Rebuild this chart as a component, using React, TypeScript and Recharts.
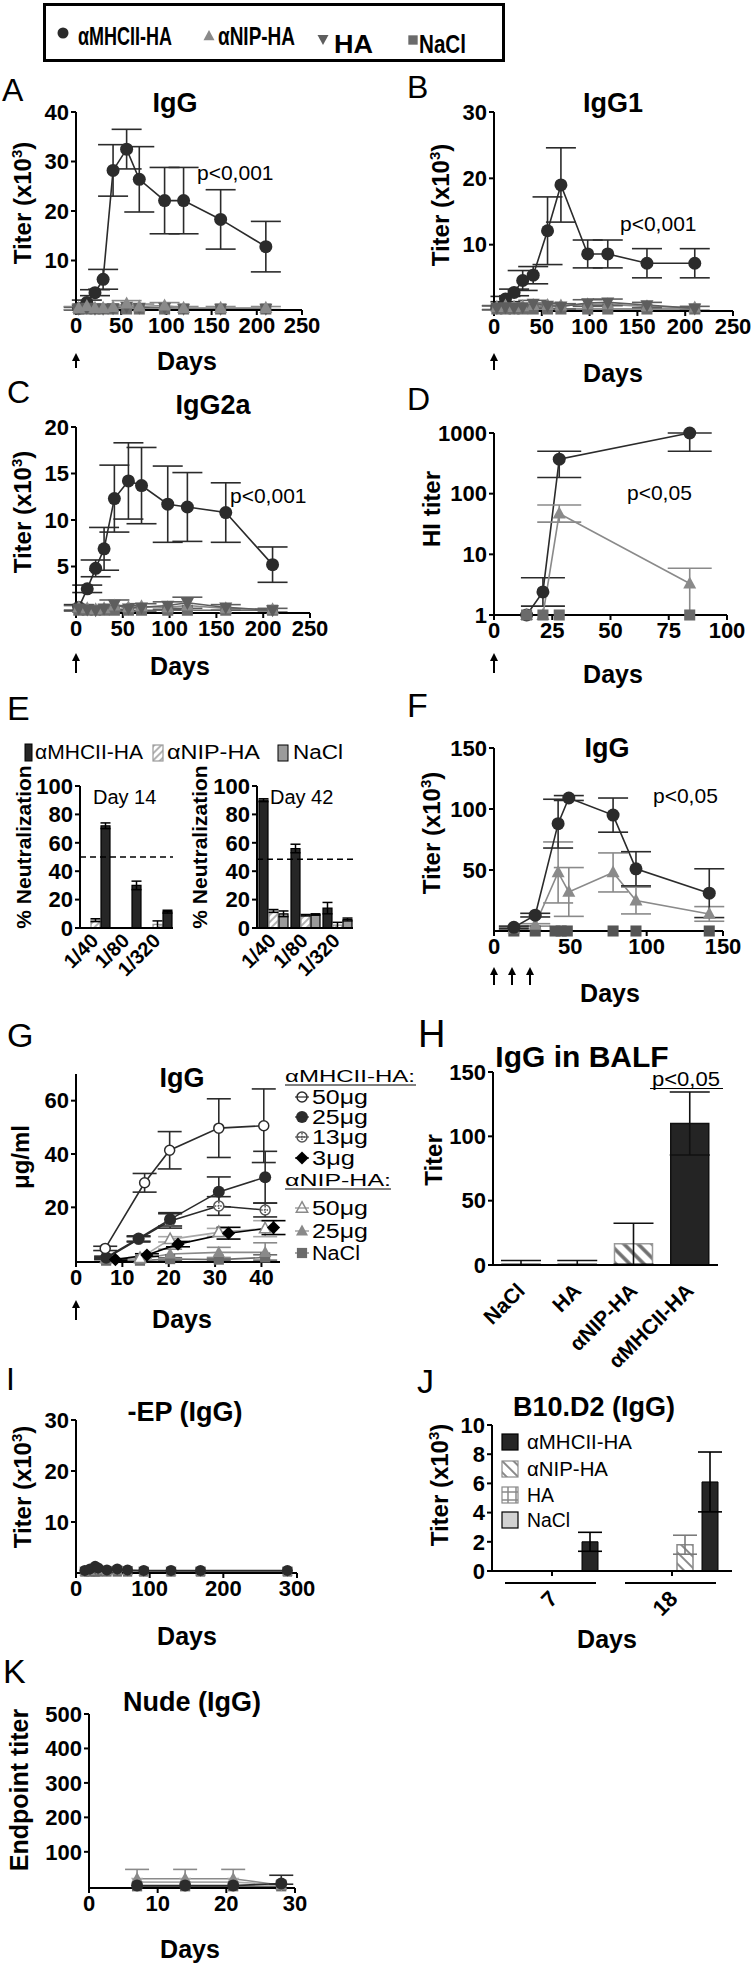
import React from "react";
import {
  LineChart,
  Line,
  BarChart,
  Bar,
  Cell,
  XAxis,
  YAxis,
  ErrorBar,
  ReferenceLine,
} from "recharts";

const FONT = "'Liberation Sans', Arial, Helvetica, sans-serif";
const DARK = "#2b2b2b";
const GREY = "#8a8a8a";
const MID = "#5e5e5e";
const SQ = "#6b6b6b";

type Err = number | [number, number];

// A: IgG
const aDays = [3, 12, 21, 30, 41, 56, 70, 98, 119, 160, 210];
const aMhc = [0.3, 1.5, 3.5, 6.2, 28.2, 32.5, 26.4, 22.1, 22.1, 18.3, 12.8];
const aMhcErr = [0.3, 0.5, 0.6, 2.0, 5.2, 4.0, 6.6, 6.7, 6.7, 6.0, 5.1];
const aNip = [0.4, 0.8, 0.4, 0.4, 0.6, 1.3, 0.7, 0.9, 0.4, 0.4, 0.4];
const aNipErr = [0.3, 0.4, 0.3, 0.3, 0.4, 0.6, 0.5, 0.6, 0.3, 0.3, 0.3];
const aHa = [0.3, 0.5, 0.3, 0.3, 0.4, 0.7, 0.5, 0.5, 0.3, 0.3, 0.3];
const aNacl = [0.2, 0.2, 0.2, 0.2, 0.2, 0.2, 0.2, 0.2, 0.2, 0.2, 0.2];

// B: IgG1
const bMhc = [0.5, 1.8, 2.8, 4.6, 5.4, 12.1, 19.0, 8.6, 8.6, 7.2, 7.2];
const bMhcErr = [0.3, 0.4, 0.5, 1.5, 1.3, 5.1, 5.6, 2.1, 2.1, 2.2, 2.2];
const bNip = [0.6, 0.8, 0.6, 0.7, 0.9, 0.9, 0.8, 1.0, 1.0, 0.7, 0.5];
const bHa = [0.5, 0.6, 0.5, 0.6, 1.1, 0.8, 0.7, 1.2, 1.3, 0.9, 0.4];
const bHaErr = [0.3, 0.3, 0.3, 0.3, 0.5, 0.4, 0.4, 0.5, 0.5, 0.4, 0.3];
const bNacl = [0.3, 0.3, 0.3, 0.3, 0.3, 0.3, 0.3, 0.3, 0.3, 0.3, 0.3];

// C: IgG2a
const cMhc = [0.6, 2.6, 4.8, 6.9, 12.3, 14.2, 13.7, 11.7, 11.4, 10.8, 5.2];
const cMhcErr = [0.3, 0.4, 0.9, 2.3, 3.6, 4.1, 4.1, 4.1, 3.7, 3.2, 1.9];
const cNip = [0.6, 0.5, 0.4, 0.5, 0.8, 0.6, 0.7, 0.6, 0.8, 0.5, 0.4];
const cHa = [0.5, 0.4, 0.3, 0.5, 0.9, 0.5, 0.6, 0.8, 1.1, 0.6, 0.3];
const cHaErr = [0.3, 0.3, 0.2, 0.3, 0.5, 0.3, 0.4, 0.4, 0.6, 0.3, 0.2];
const cNacl = [0.3, 0.3, 0.3, 0.3, 0.3, 0.3, 0.3, 0.3, 0.3, 0.3, 0.3];

// D: HI titer (log)
const dDays = [14, 21, 28, 84];
const dMhc = [1, 2.4, 370, 1000];
const dMhcErr: Err[] = [0, [1.0, 1.7], [185, 130], [500, 0]];
const dNip = [1, 1, 47, 3.3];
const dNipErr: Err[] = [0, 0, [13, 18], [2.3, 2.6]];
const dNacl = [1, 1, 1, 1];

// E: neutralization
const eCats = ["1/40", "1/80", "1/320"];
const e14Mhc = [72, 30, 11.5];
const e14MhcErr = [2, 3, 1];
const e14Nip = [5.5, 0, 2.5];
const e14NipErr = [1, 0, 2.5];
const e14Nacl = [0, 0, 0];
const e42Mhc = [90, 56, 14];
const e42MhcErr = [1, 3, 4];
const e42Nip = [12, 9, 2];
const e42NipErr = [1, 0.5, 2];
const e42Nacl = [10, 9.5, 6];
const e42NaclErr = [2, 0.5, 1];

// F: IgG, three doses
const fDays = [13, 27, 42, 49, 78, 93, 141];
const fMhc = [3, 13, 88, 109, 95, 51, 31];
const fMhcErr = [1, 1.5, 20, 2, 14, 14, 20];
const fNip = [2, 5, 48, 32, 48, 25, 14];
const fNipErr = [1, 1, 25, 20, 16, 11, 6];
const fNaclDays = [13, 27, 40, 44, 48, 78, 93, 141];
const fNacl = [0, 0, 0, 0, 0, 0, 0, 0];

// G: dose response
const gM50Days = [6.3, 14.8, 20.2, 30.8, 40.5];
const gM50 = [4.6, 29.2, 41.4, 49.7, 50.6];
const gM50Err = [0.8, 3.5, 7, 11, 13.8];
const gM25Days = [6.5, 13.5, 20.3, 30.8, 40.8];
const gM25 = [1.2, 8.3, 15.5, 25.8, 31.3];
const gM25Err = [0.5, 1, 2.5, 5.6, 9.7];
const gM13 = [0.9, 8, 14.9, 20.5, 19];
const gM13Err = [0.4, 1, 2.7, 3.5, 2.6];
const gM3Days = [8.5, 15.3, 22, 32.9, 42.6];
const gM3 = [0.4, 2.1, 6.2, 10.3, 12.4];
const gM3Err = [0.3, 0.5, 1, 2.2, 2.6];
const gNDays = [6.5, 13.8, 20.3, 30.8, 40.8];
const gN50 = [0.9, 0.9, 8, 10.6, 12];
const gN50Err = [0.3, 0.3, 1, 1.5, 3];
const gN25 = [0.6, 0.6, 2.5, 3.1, 3.1];
const gN25Err = [0.3, 0.3, 1.8, 1.9, 3.6];
const gNacl = [0, 0, 0.6, 0.4, 1.2];
const gNaclErr = [0, 0, 0.5, 0.4, 1.0];

// H: BALF
const hCats = ["NaCl", "HA", "αNIP-HA", "αMHCII-HA"];
const hVals = [1, 1, 16.5, 110];
const hErr: Err[] = [[1, 2.5], [1, 2.5], [16, 16], [24.5, 24.5]];

// I: -EP
const iDays = [12, 19, 26, 30, 42, 56, 70, 92, 129, 169, 287];
const iMhc = [0.5, 0.8, 1.3, 1.0, 0.6, 0.8, 0.6, 0.5, 0.5, 0.5, 0.5];
const iNip = [0.3, 0.4, 0.5, 0.6, 0.4, 0.5, 0.4, 0.3, 0.3, 0.3, 0.3];
const iHa = [0.4, 0.5, 0.8, 0.7, 0.5, 0.6, 0.5, 0.4, 0.4, 0.4, 0.4];
const iNacl = [0.2, 0.2, 0.2, 0.2, 0.2, 0.2, 0.2, 0.2, 0.2, 0.2, 0.2];

// J: B10.D2
const jCats = ["7", "18"];
const jNacl = [0, 0];
const jHa = [0, 0];
const jNip = [0, 1.8];
const jNipErr = [0, 0.65];
const jMhc = [2.0, 6.1];
const jMhcErr = [0.65, 2.05];

// K: nude
const kDays = [7, 14, 21, 28];
const kNip = [22, 22, 22, 3];
const kNipErr: Err[] = [27, 27, 27, 0];
const kHa = [12, 12, 12, 5];
const kMhc = [2, 2, 2, 8];
const kMhcErr: Err[] = [0, 0, 0, [2, 24]];
const kNacl = [0, 0, 0, 0];

type Kind = "dot" | "odot" | "xdot" | "tri" | "otri" | "tridown" | "sq" | "dia";

function Mark({ cx, cy, kind, size, color }: { cx?: number; cy?: number; kind: Kind; size: number; color: string }) {
  if (cx == null || cy == null || isNaN(cx) || isNaN(cy)) return null;
  const r = size / 2;
  switch (kind) {
    case "dot":
      return <circle cx={cx} cy={cy} r={r} fill={color} />;
    case "odot":
      return <circle cx={cx} cy={cy} r={r - 1} fill="#fff" stroke={color} strokeWidth={1.5} />;
    case "xdot":
      return (
        <g>
          <circle cx={cx} cy={cy} r={r - 1} fill="#fff" stroke={color} strokeWidth={1.5} />
          <path d={`M${cx - r + 2},${cy} H${cx + r - 2} M${cx},${cy - r + 2} V${cy + r - 2}`} stroke={color} strokeWidth={1.5} strokeDasharray="1.5 1.2" />
        </g>
      );
    case "tri":
      return <path d={`M${cx},${cy - r * 1.1} L${cx + r},${cy + r * 0.75} L${cx - r},${cy + r * 0.75}Z`} fill={color} />;
    case "otri":
      return <path d={`M${cx},${cy - r * 1.05} L${cx + r * 0.95},${cy + r * 0.7} L${cx - r * 0.95},${cy + r * 0.7}Z`} fill="#fff" stroke={color} strokeWidth={1.5} />;
    case "tridown":
      return <path d={`M${cx},${cy + r * 1.1} L${cx + r},${cy - r * 0.75} L${cx - r},${cy - r * 0.75}Z`} fill={color} />;
    case "sq":
      return <rect x={cx - r * 0.85} y={cy - r * 0.85} width={r * 1.7} height={r * 1.7} fill={color} />;
    case "dia":
      return <path d={`M${cx},${cy - r * 1.1} L${cx + r * 1.1},${cy} L${cx},${cy + r * 1.1} L${cx - r * 1.1},${cy}Z`} fill={color} />;
  }
  return null;
}

type Ser = { id: string; xs: number[]; ys: number[]; es?: Err[]; kind: Kind; color: string; line: string; size: number };

function rows(s: Ser) {
  return s.xs.map((x, i) => ({ x, [s.id]: s.ys[i], [s.id + "E"]: s.es ? s.es[i] : 0 }));
}

const YW = 72;
const MT = 14;
const MR = 30;
const XH = 44;
const AXIS = { stroke: "#000", strokeWidth: 2 };
const TICK = { fontSize: 22, fontWeight: 700, fill: "#000", fontFamily: FONT };

interface LP {
  x0: number;
  x1: number;
  y0: number;
  y1: number;
  xDomain: [number, number];
  xTicks: number[];
  yDomain: [number, number];
  yTicks: number[];
  log?: boolean;
  cap: number;
  series: Ser[];
}

function LinePanel(p: LP) {
  const W = YW + (p.x1 - p.x0) + MR;
  const H = MT + (p.y1 - p.y0) + XH;
  return (
    <div style={{ position: "absolute", left: p.x0 - YW, top: p.y0 - MT }}>
      <LineChart width={W} height={H} margin={{ top: MT, right: MR, bottom: 0, left: 0 }}>
        <XAxis type="number" dataKey="x" domain={p.xDomain} ticks={p.xTicks} interval={0} height={XH}
          axisLine={AXIS} tickLine={AXIS} tickSize={5} tick={TICK} />
        <YAxis type="number" domain={p.yDomain} ticks={p.yTicks} interval={0} width={YW}
          axisLine={AXIS} tickLine={AXIS} tickSize={5} tick={TICK} scale={p.log ? "log" : "auto"} />
        {p.series.map((s) => (
          <Line
            key={s.id}
            data={rows(s)}
            dataKey={s.id}
            type="linear"
            stroke={s.line}
            strokeWidth={1.6}
            isAnimationActive={false}
            activeDot={false}
            dot={(d: any) => (
              <Mark key={`${s.id}-${d.index}`} cx={d.cx} cy={d.cy} kind={s.kind} size={s.size} color={s.color} />
            )}
          >
            {s.es ? <ErrorBar dataKey={s.id + "E"} width={p.cap} stroke={s.line} strokeWidth={1.6} direction="y" /> : null}
          </Line>
        ))}
      </LineChart>
    </div>
  );
}

function RotTick({ x, y, payload, dx, dy, fs }: any) {
  const ax = x + dx;
  const ay = y + dy;
  return (
    <text x={ax} y={ay} transform={`rotate(-45 ${ax} ${ay})`} textAnchor="end" fontSize={fs}
      fontWeight={700} fontFamily={FONT} fill="#000">
      {payload.value}
    </text>
  );
}

const eStyle: Record<string, { fill: string; stroke: string }> = {
  mhc: { fill: "#262626", stroke: "#000" },
  nip: { fill: "url(#hatchE)", stroke: "#9a9a9a" },
  nacl: { fill: "#9b9b9b", stroke: "#000" },
};

function NeutPanel({ x0, x1, data, keys, refY }: { x0: number; x1: number; data: any[]; keys: string[]; refY: number }) {
  const y0 = 786;
  const y1 = 928;
  const W = YW + (x1 - x0) + 4;
  const H = MT + (y1 - y0) + 70;
  return (
    <div style={{ position: "absolute", left: x0 - YW, top: y0 - MT }}>
      <BarChart width={W} height={H} data={data} margin={{ top: MT, right: 4, bottom: 0, left: 0 }} barSize={9} barGap={1}>
        <XAxis dataKey="cat" height={70} axisLine={AXIS} tickLine={false} interval={0}
          tick={(t: any) => <RotTick {...t} dx={4} dy={6} fs={20} />} />
        <YAxis domain={[0, 100]} ticks={[0, 20, 40, 60, 80, 100]} interval={0} width={YW}
          axisLine={AXIS} tickLine={AXIS} tickSize={5} tick={TICK} />
        <ReferenceLine y={refY} stroke="#000" strokeWidth={1.5} strokeDasharray="6 4" />
        {keys.map((k) => (
          <Bar key={k} dataKey={k} fill={eStyle[k].fill} stroke={eStyle[k].stroke} strokeWidth={1.2} isAnimationActive={false}>
            <ErrorBar dataKey={k + "E"} width={5} stroke="#000" strokeWidth={1.5} direction="y" />
          </Bar>
        ))}
      </BarChart>
    </div>
  );
}

function Txt({ x, y, s, w = 400, a = "start", tl, children }: any) {
  return (
    <text x={x} y={y} fontSize={s} fontWeight={w} textAnchor={a} fontFamily={FONT} fill="#000"
      textLength={tl} lengthAdjust={tl ? "spacingAndGlyphs" : undefined}>
      {children}
    </text>
  );
}

function VTxt({ x, y, s, children }: any) {
  return (
    <text transform={`translate(${x},${y}) rotate(-90)`} fontSize={s} fontWeight={700} textAnchor="middle"
      fontFamily={FONT} fill="#000">
      {children}
    </text>
  );
}

function Titer({ x, y }: { x: number; y: number }) {
  return (
    <VTxt x={x} y={y} s={24}>
      Titer (x10<tspan dy={-9} fontSize={15}>3</tspan>
      <tspan dy={9}>)</tspan>
    </VTxt>
  );
}

function Arrow({ x, y1, y2 }: { x: number; y1: number; y2: number }) {
  return (
    <g>
      <line x1={x} x2={x} y1={y1 + 5} y2={y2} stroke="#000" strokeWidth={2} />
      <path d={`M${x - 4},${y1 + 8} L${x},${y1} L${x + 4},${y1 + 8}Z`} fill="#000" />
    </g>
  );
}

function JTick({ x, y, payload }: any) {
  const ax = x + 7;
  const ay = y + 22;
  return (
    <g>
      <line x1={x - 47} x2={x + 44} y1={y + 5} y2={y + 5} stroke="#000" strokeWidth={2} />
      <text x={ax} y={ay} transform={`rotate(-45 ${ax} ${ay})`} textAnchor="end" fontSize={22}
        fontWeight={700} fontFamily={FONT} fill="#000">
        {payload.value}
      </text>
    </g>
  );
}

export default function App() {
  const mk = (id: string, xs: number[], ys: number[], es: Err[] | undefined, kind: Kind, color: string, line: string, size = 13): Ser =>
    ({ id, xs, ys, es, kind, color, line, size });

  const e14Rows = eCats.map((cat, i) => ({
    cat, nacl: e14Nacl[i], naclE: 0, nip: e14Nip[i], nipE: e14NipErr[i], mhc: e14Mhc[i], mhcE: e14MhcErr[i],
  }));
  const e42Rows = eCats.map((cat, i) => ({
    cat, mhc: e42Mhc[i], mhcE: e42MhcErr[i], nip: e42Nip[i], nipE: e42NipErr[i], nacl: e42Nacl[i], naclE: e42NaclErr[i],
  }));
  const hRows = hCats.map((cat, i) => ({ cat, v: hVals[i], e: hErr[i] }));
  const hFill = ["#fff", "#fff", "url(#hatchH)", "#242424"];
  const hStroke = ["#9a9a9a", "#9a9a9a", "#9a9a9a", "#111"];
  const jRows = jCats.map((cat, i) => ({
    cat, nacl: jNacl[i], ha: jHa[i], nip: jNip[i], nipE: jNipErr[i], mhc: jMhc[i], mhcE: jMhcErr[i],
  }));

  const gLegend: { kind: Kind; color: string; label: string; y: number; tl: number }[] = [
    { kind: "odot", color: DARK, label: "50μg", y: 1097, tl: 56 },
    { kind: "dot", color: DARK, label: "25μg", y: 1117, tl: 56 },
    { kind: "xdot", color: "#555", label: "13μg", y: 1137, tl: 56 },
    { kind: "dia", color: "#000", label: "3μg", y: 1158, tl: 43 },
    { kind: "otri", color: GREY, label: "50μg", y: 1208, tl: 56 },
    { kind: "tri", color: GREY, label: "25μg", y: 1231, tl: 56 },
    { kind: "sq", color: SQ, label: "NaCl", y: 1253, tl: 48 },
  ];

  const jLegend = [
    { fill: "#262626", stroke: "#000", label: "αMHCII-HA", y: 1442, tl: 105 },
    { fill: "url(#hatchJ)", stroke: "#8a8a8a", label: "αNIP-HA", y: 1469, tl: 81 },
    { fill: "url(#gridJ)", stroke: "#8a8a8a", label: "HA", y: 1495, tl: 27 },
    { fill: "#d2d2d2", stroke: "#000", label: "NaCl", y: 1520, tl: 43 },
  ];

  return (
    <div style={{ position: "absolute", left: 0, top: 0, width: 755, height: 1965, background: "#fff", overflow: "hidden" }}>
      <svg width={0} height={0} style={{ position: "absolute" }}>
        <defs>
          <pattern id="hatchE" patternUnits="userSpaceOnUse" width={5} height={5} patternTransform="rotate(45)">
            <rect width={5} height={5} fill="#fff" />
            <line x1={1} y1={0} x2={1} y2={5} stroke="#a0a0a0" strokeWidth={1.6} />
          </pattern>
          <pattern id="hatchH" patternUnits="userSpaceOnUse" width={10} height={10} patternTransform="rotate(-45)">
            <rect width={10} height={10} fill="#fff" />
            <line x1={2} y1={0} x2={2} y2={10} stroke="#6e6e6e" strokeWidth={3.5} />
          </pattern>
          <pattern id="hatchJ" patternUnits="userSpaceOnUse" width={8} height={8} patternTransform="rotate(-45)">
            <rect width={8} height={8} fill="#fff" />
            <line x1={2} y1={0} x2={2} y2={8} stroke="#8a8a8a" strokeWidth={2} />
          </pattern>
          <pattern id="gridJ" patternUnits="userSpaceOnUse" width={8} height={8}>
            <rect width={8} height={8} fill="#fff" />
            <path d="M4,0 V8 M0,4 H8" stroke="#8a8a8a" strokeWidth={1.5} />
          </pattern>
        </defs>
      </svg>

      {/* A */}
      <LinePanel x0={76} x1={302} y0={112} y1={310} xDomain={[0, 250]} xTicks={[0, 50, 100, 150, 200, 250]}
        yDomain={[0, 40]} yTicks={[10, 20, 30, 40]} cap={15}
        series={[
          mk("mhc", aDays, aMhc, aMhcErr, "dot", DARK, DARK),
          mk("nacl", aDays, aNacl, undefined, "sq", SQ, SQ),
          mk("ha", aDays, aHa, undefined, "tridown", MID, MID),
          mk("nip", aDays, aNip, aNipErr, "tri", GREY, GREY),
        ]} />
      {/* B */}
      <LinePanel x0={494} x1={733} y0={112} y1={311} xDomain={[0, 250]} xTicks={[0, 50, 100, 150, 200, 250]}
        yDomain={[0, 30]} yTicks={[10, 20, 30]} cap={15}
        series={[
          mk("mhc", aDays, bMhc, bMhcErr, "dot", DARK, DARK),
          mk("nacl", aDays, bNacl, undefined, "sq", SQ, SQ),
          mk("nip", aDays, bNip, undefined, "tri", GREY, GREY),
          mk("ha", aDays, bHa, bHaErr, "tridown", MID, MID),
        ]} />
      {/* C */}
      <LinePanel x0={76} x1={310} y0={427} y1={613} xDomain={[0, 250]} xTicks={[0, 50, 100, 150, 200, 250]}
        yDomain={[0, 20]} yTicks={[5, 10, 15, 20]} cap={15}
        series={[
          mk("mhc", aDays, cMhc, cMhcErr, "dot", DARK, DARK),
          mk("nacl", aDays, cNacl, undefined, "sq", SQ, SQ),
          mk("nip", aDays, cNip, undefined, "tri", GREY, GREY),
          mk("ha", aDays, cHa, cHaErr, "tridown", MID, MID),
        ]} />
      {/* D */}
      <LinePanel x0={494} x1={727} y0={433} y1={615} xDomain={[0, 100]} xTicks={[0, 25, 50, 75, 100]}
        yDomain={[1, 1000]} yTicks={[1, 10, 100, 1000]} log cap={22}
        series={[
          mk("mhc", dDays, dMhc, dMhcErr, "dot", DARK, DARK),
          mk("nip", dDays, dNip, dNipErr, "tri", GREY, GREY),
          mk("nacl", dDays, dNacl, undefined, "sq", SQ, SQ),
        ]} />
      {/* E */}
      <NeutPanel x0={80} x1={173} data={e14Rows} keys={["nacl", "nip", "mhc"]} refY={50} />
      <NeutPanel x0={257} x1={353} data={e42Rows} keys={["mhc", "nip", "nacl"]} refY={48.5} />
      {/* F */}
      <LinePanel x0={494} x1={723} y0={748} y1={931} xDomain={[0, 150]} xTicks={[0, 50, 100, 150]}
        yDomain={[0, 150]} yTicks={[50, 100, 150]} cap={15}
        series={[
          mk("nacl", fNaclDays, fNacl, undefined, "sq", "#555", "#555"),
          mk("nip", fDays, fNip, fNipErr, "tri", GREY, GREY),
          mk("mhc", fDays, fMhc, fMhcErr, "dot", DARK, DARK),
        ]} />
      {/* G */}
      <LinePanel x0={76} x1={280} y0={1074} y1={1262} xDomain={[0, 44]} xTicks={[0, 10, 20, 30, 40]}
        yDomain={[0, 70]} yTicks={[20, 40, 60]} cap={12}
        series={[
          mk("nacl", gNDays, gNacl, gNaclErr, "sq", SQ, SQ, 12),
          mk("n25", gNDays, gN25, gN25Err, "tri", GREY, GREY, 12),
          mk("n50", gNDays, gN50, gN50Err, "otri", GREY, "#a8a8a8", 12),
          mk("m13", gM25Days, gM13, gM13Err, "xdot", "#555", DARK, 12),
          mk("m25", gM25Days, gM25, gM25Err, "dot", DARK, DARK, 12),
          mk("m3", gM3Days, gM3, gM3Err, "dia", "#000", "#000", 12),
          mk("m50", gM50Days, gM50, gM50Err, "odot", DARK, DARK, 12),
        ]} />
      {/* H */}
      <div style={{ position: "absolute", left: 493 - YW, top: 1072 - MT }}>
        <BarChart width={YW + 225 + 6} height={MT + 193 + 130} data={hRows} margin={{ top: MT, right: 6, bottom: 0, left: 0 }} barSize={38}>
          <XAxis dataKey="cat" height={130} axisLine={AXIS} tickLine={false} interval={0}
            tick={(t: any) => <RotTick {...t} dx={5} dy={19} fs={21} />} />
          <YAxis domain={[0, 150]} ticks={[0, 50, 100, 150]} interval={0} width={YW}
            axisLine={AXIS} tickLine={AXIS} tickSize={5} tick={TICK} />
          <Bar dataKey="v" isAnimationActive={false} strokeWidth={1.5}>
            {hRows.map((r, i) => (
              <Cell key={r.cat} fill={hFill[i]} stroke={hStroke[i]} />
            ))}
            <ErrorBar dataKey="e" width={20} stroke="#111" strokeWidth={1.6} direction="y" />
          </Bar>
        </BarChart>
      </div>
      {/* I */}
      <LinePanel x0={76} x1={297} y0={1420} y1={1573} xDomain={[0, 300]} xTicks={[0, 100, 200, 300]}
        yDomain={[0, 30]} yTicks={[10, 20, 30]} cap={10}
        series={[
          mk("nacl", iDays, iNacl, undefined, "sq", SQ, SQ, 11),
          mk("nip", iDays, iNip, undefined, "tri", GREY, GREY, 11),
          mk("ha", iDays, iHa, undefined, "tridown", MID, MID, 11),
          mk("mhc", iDays, iMhc, undefined, "dot", DARK, DARK, 11),
        ]} />
      {/* J */}
      <div style={{ position: "absolute", left: 492 - YW, top: 1425 - MT }}>
        <BarChart width={YW + 240 + 6} height={MT + 146 + 80} data={jRows} margin={{ top: MT, right: 6, bottom: 0, left: 0 }}
          barSize={16} barGap={9}>
          <XAxis dataKey="cat" height={80} axisLine={AXIS} tickLine={AXIS} tickSize={5} interval={0}
            tick={(t: any) => <JTick {...t} />} />
          <YAxis domain={[0, 10]} ticks={[0, 2, 4, 6, 8, 10]} interval={0} width={YW}
            axisLine={AXIS} tickLine={AXIS} tickSize={5} tick={TICK} />
          <Bar dataKey="nacl" fill="#d2d2d2" stroke="#000" isAnimationActive={false} />
          <Bar dataKey="ha" fill="url(#gridJ)" stroke="#8a8a8a" isAnimationActive={false} />
          <Bar dataKey="nip" fill="url(#hatchJ)" stroke="#8a8a8a" strokeWidth={1.5} isAnimationActive={false}>
            <ErrorBar dataKey="nipE" width={12} stroke="#7a7a7a" strokeWidth={1.6} direction="y" />
          </Bar>
          <Bar dataKey="mhc" fill="#262626" stroke="#000" isAnimationActive={false}>
            <ErrorBar dataKey="mhcE" width={12} stroke="#000" strokeWidth={1.6} direction="y" />
          </Bar>
        </BarChart>
      </div>
      {/* K */}
      <LinePanel x0={89} x1={295} y0={1714} y1={1888} xDomain={[0, 30]} xTicks={[0, 10, 20, 30]}
        yDomain={[0, 500]} yTicks={[100, 200, 300, 400, 500]} cap={12}
        series={[
          mk("nacl", kDays, kNacl, undefined, "sq", SQ, SQ, 12),
          mk("ha", kDays, kHa, undefined, "tridown", "#aaa", "#aaa", 12),
          mk("nip", kDays, kNip, kNipErr, "tri", GREY, GREY, 12),
          mk("mhc", kDays, kMhc, kMhcErr, "dot", DARK, DARK, 12),
        ]} />

      <svg width={755} height={1965} style={{ position: "absolute", left: 0, top: 0, pointerEvents: "none" }}>
        {/* top legend */}
        <rect x={44.5} y={4.5} width={459} height={56} fill="none" stroke="#000" strokeWidth={3} />
        <Mark cx={63} cy={33} kind="dot" size={11} color={DARK} />
        <Txt x={78} y={45} s={26} w={700} tl={94}>αMHCII-HA</Txt>
        <Mark cx={209} cy={36} kind="tri" size={11} color={GREY} />
        <Txt x={218} y={45} s={26} w={700} tl={77}>αNIP-HA</Txt>
        <Mark cx={323} cy={39} kind="tridown" size={11} color={MID} />
        <Txt x={334} y={53} s={26} w={700} tl={39}>HA</Txt>
        <Mark cx={413} cy={40} kind="sq" size={11} color={SQ} />
        <Txt x={419} y={53} s={26} w={700} tl={47}>NaCl</Txt>

        {/* A */}
        <Txt x={2} y={101} s={32}>A</Txt>
        <Txt x={175} y={112} s={27} w={700} a="middle">IgG</Txt>
        <Txt x={197} y={180} s={21}>p&lt;0,001</Txt>
        <Titer x={31} y={203} />
        <Txt x={187} y={370} s={25} w={700} a="middle">Days</Txt>
        <Arrow x={76} y1={353} y2={368} />

        {/* B */}
        <Txt x={407} y={98} s={32}>B</Txt>
        <Txt x={613} y={112} s={27} w={700} a="middle">IgG1</Txt>
        <Txt x={620} y={231} s={21}>p&lt;0,001</Txt>
        <Titer x={449} y={205} />
        <Txt x={613} y={382} s={25} w={700} a="middle">Days</Txt>
        <Arrow x={494} y1={353} y2={370} />

        {/* C */}
        <Txt x={7} y={403} s={32}>C</Txt>
        <Txt x={213} y={414} s={27} w={700} a="middle">IgG2a</Txt>
        <Txt x={230} y={503} s={21}>p&lt;0,001</Txt>
        <Titer x={31} y={512} />
        <Txt x={180} y={675} s={25} w={700} a="middle">Days</Txt>
        <Arrow x={76} y1={653} y2={673} />

        {/* D */}
        <Txt x={407} y={410} s={32}>D</Txt>
        <VTxt x={440} y={509} s={24}>HI titer</VTxt>
        <Txt x={627} y={500} s={21}>p&lt;0,05</Txt>
        <Txt x={613} y={683} s={25} w={700} a="middle">Days</Txt>
        <Arrow x={494} y1={653} y2={673} />

        {/* E */}
        <Txt x={7} y={720} s={34}>E</Txt>
        <rect x={25} y={744} width={7} height={17} fill="#262626" stroke="#000" />
        <Txt x={35} y={759} s={20} tl={108}>αMHCII-HA</Txt>
        <rect x={153} y={745} width={10} height={16} fill="url(#hatchE)" stroke="#9a9a9a" strokeWidth={1.2} />
        <Txt x={167} y={759} s={20} tl={93}>αNIP-HA</Txt>
        <rect x={278} y={745} width={10} height={16} fill="#9b9b9b" stroke="#000" />
        <Txt x={293} y={759} s={20} tl={50}>NaCl</Txt>
        <VTxt x={31} y={847} s={21}>% Neutralization</VTxt>
        <VTxt x={207} y={847} s={21}>% Neutralization</VTxt>
        <Txt x={93} y={804} s={20}>Day 14</Txt>
        <Txt x={270} y={804} s={20}>Day 42</Txt>

        {/* F */}
        <Txt x={407} y={717} s={34}>F</Txt>
        <Txt x={607} y={757} s={27} w={700} a="middle">IgG</Txt>
        <Txt x={653} y={803} s={21}>p&lt;0,05</Txt>
        <Titer x={440} y={833} />
        <Txt x={610} y={1002} s={25} w={700} a="middle">Days</Txt>
        <Arrow x={494} y1={967} y2={985} />
        <Arrow x={512} y1={967} y2={985} />
        <Arrow x={530} y1={967} y2={985} />

        {/* G */}
        <Txt x={7} y={1047} s={34}>G</Txt>
        <Txt x={182} y={1087} s={27} w={700} a="middle">IgG</Txt>
        <VTxt x={29} y={1157} s={24}>μg/ml</VTxt>
        <Txt x={285} y={1082} s={17} tl={130}>αMHCII-HA:</Txt>
        <line x1={285} x2={416} y1={1085} y2={1085} stroke="#000" strokeWidth={1} />
        <Txt x={285} y={1186} s={17} tl={106}>αNIP-HA:</Txt>
        <line x1={285} x2={391} y1={1189} y2={1189} stroke="#000" strokeWidth={1} />
        {gLegend.map((g, i) => (
          <g key={i}>
            <Mark cx={302} cy={g.y} kind={g.kind} size={12} color={g.color} />
            <path d={`M295,${g.y} H309`} stroke={g.color} strokeWidth={1.2} />
            <Txt x={312} y={g.y + 7} s={20} tl={g.tl}>{g.label}</Txt>
          </g>
        ))}
        <Txt x={182} y={1328} s={25} w={700} a="middle">Days</Txt>
        <Arrow x={76} y1={1300} y2={1320} />

        {/* H */}
        <Txt x={418} y={1047} s={38}>H</Txt>
        <Txt x={582} y={1067} s={30} w={700} a="middle">IgG in BALF</Txt>
        <Txt x={652} y={1086} s={20} tl={68}>p&lt;0,05</Txt>
        <line x1={650} x2={723} y1={1088.5} y2={1088.5} stroke="#000" strokeWidth={1.2} />
        <VTxt x={442} y={1160} s={24}>Titer</VTxt>

        {/* I */}
        <Txt x={6} y={1390} s={32}>I</Txt>
        <Txt x={185} y={1421} s={27} w={700} a="middle">-EP (IgG)</Txt>
        <Titer x={31} y={1487} />
        <Txt x={187} y={1645} s={25} w={700} a="middle">Days</Txt>

        {/* J */}
        <Txt x={417} y={1393} s={34}>J</Txt>
        <Txt x={594} y={1416} s={27} w={700} a="middle">B10.D2 (IgG)</Txt>
        {jLegend.map((g, i) => (
          <g key={i}>
            <rect x={502} y={g.y - 8} width={16} height={16} fill={g.fill} stroke={g.stroke} strokeWidth={1.2} />
            <Txt x={527} y={g.y + 7} s={20} tl={g.tl}>{g.label}</Txt>
          </g>
        ))}
        <Titer x={448} y={1485} />
        <Txt x={607} y={1648} s={25} w={700} a="middle">Days</Txt>

        {/* K */}
        <Txt x={3} y={1683} s={34}>K</Txt>
        <Txt x={192} y={1711} s={27} w={700} a="middle">Nude (IgG)</Txt>
        <VTxt x={28} y={1790} s={25}>Endpoint titer</VTxt>
        <Txt x={190} y={1958} s={25} w={700} a="middle">Days</Txt>
      </svg>
    </div>
  );
}
